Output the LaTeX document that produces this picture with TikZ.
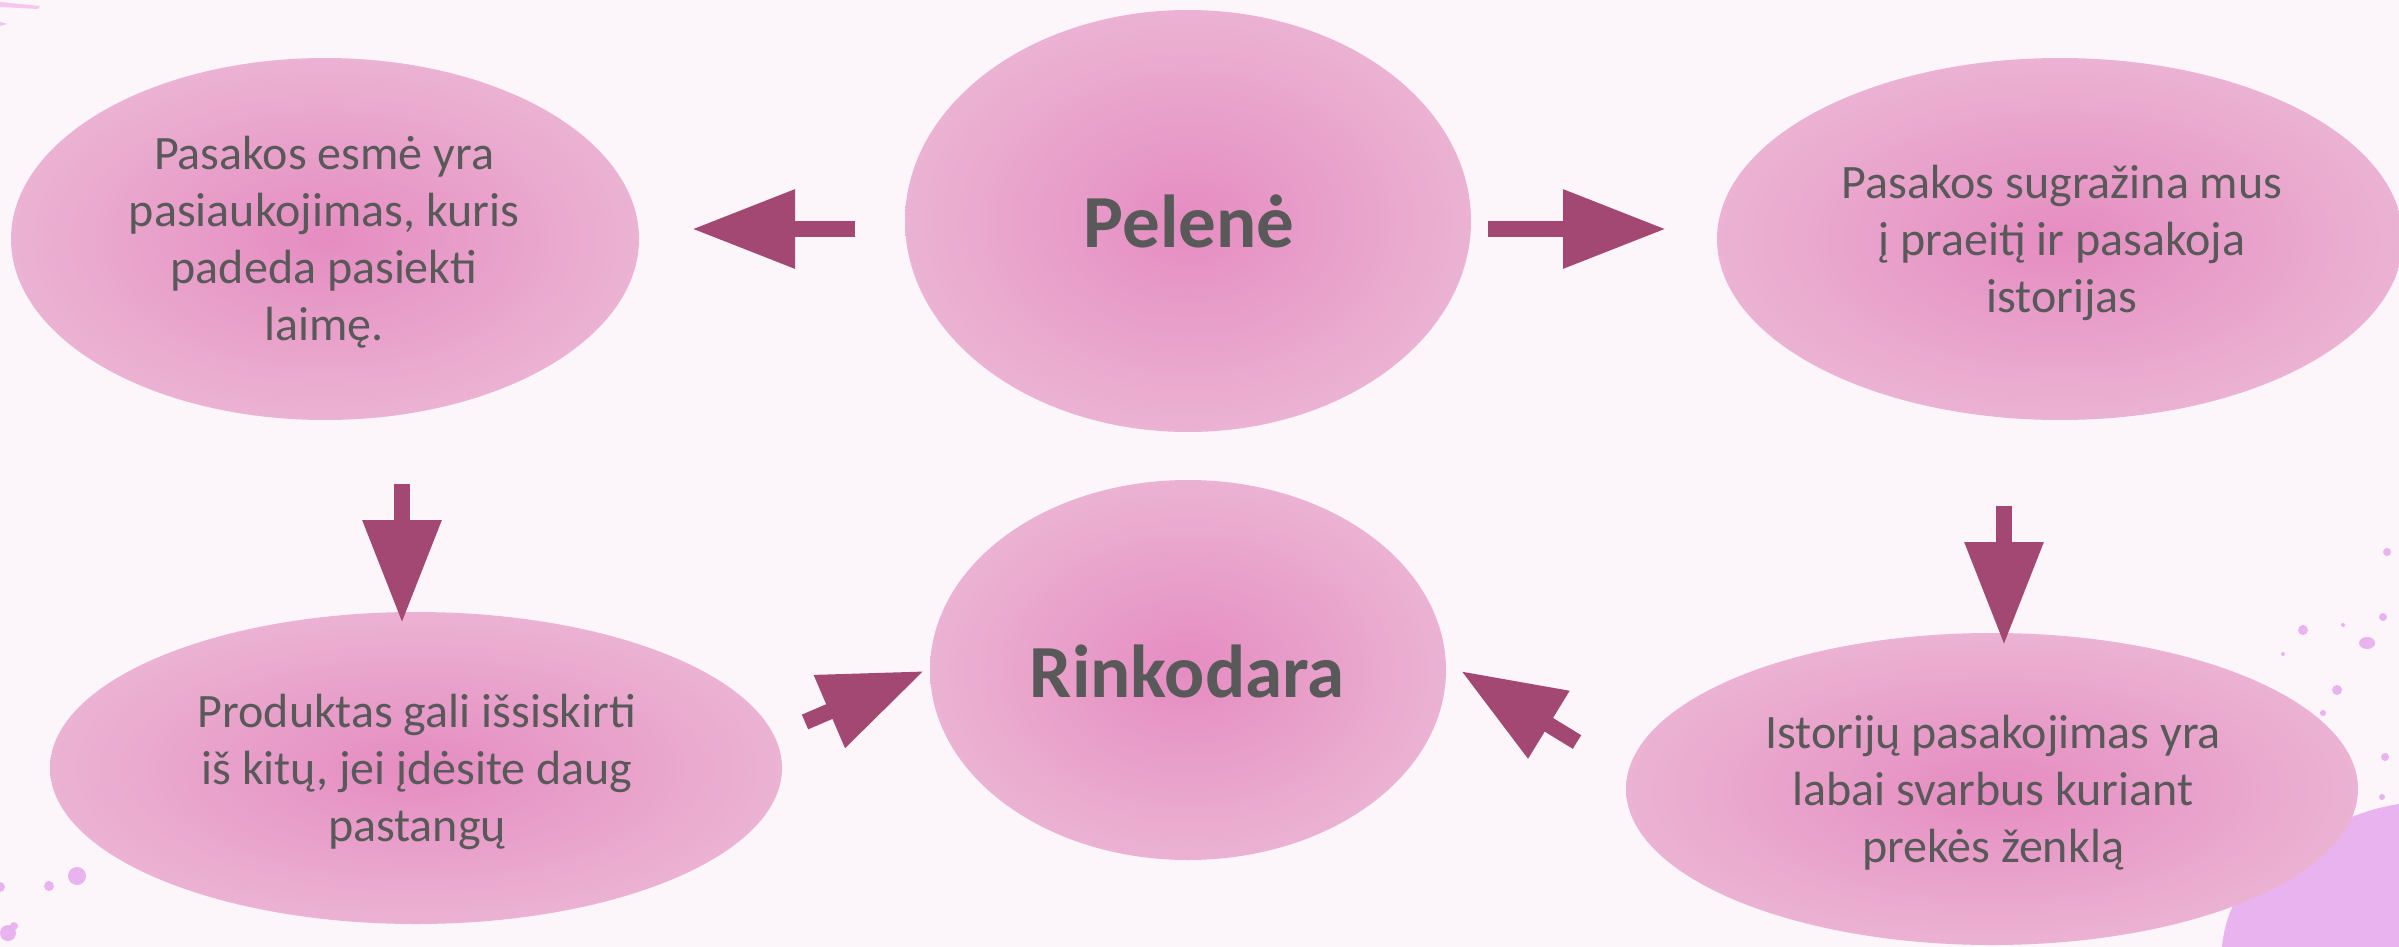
\documentclass[tikz,border=0pt]{standalone}
\usepackage{fontspec}
\setmainfont{Carlito}
\usetikzlibrary{arrows.meta,shapes.geometric}
\definecolor{bg}{HTML}{FCF5F9}
\definecolor{pkin}{HTML}{E58CC1}
\definecolor{pkmid}{HTML}{EAABCF}
\definecolor{pkout}{HTML}{F3D5E6}
\definecolor{arr}{HTML}{A34872}
\definecolor{txtc}{HTML}{595959}
\definecolor{lav}{HTML}{E8B3EF}
\definecolor{streak}{HTML}{F6C6EC}
\pgfdeclareradialshading{pinkglow}{\pgfpoint{0bp}{0bp}}{color(0bp)=(pkin); color(20bp)=(pkmid); color(50bp)=(pkout)}
\newcommand\mlines[1]{\vtop{\baselineskip=57pt\halign{\hfil##\hfil\cr#1\crcr}}}
\tikzset{
  bubble/.style={ellipse, inner sep=0pt, shading=pinkglow},
  body/.style={text=txtc, font=\fontsize{48}{57}\selectfont, inner sep=0pt, anchor=base},
  title/.style={text=txtc, font=\fontsize{75}{80}\selectfont\bfseries, inner sep=0pt, anchor=base},
  bigarrow/.style={draw=arr, line width=16pt, -{Triangle[length=103pt, width=75pt]}},
  splash/.style={fill=lav, draw=none}
}
\begin{document}
\begin{tikzpicture}[x=1pt,y=-1pt]
\fill[bg] (0,0) rectangle (2399,947);
\useasboundingbox (0,0) rectangle (2399,947);
% watercolor decorations
\fill[splash] (2222,947) .. controls (2226,900) and (2255,862) .. (2305,838)
  .. controls (2345,818) and (2372,808) .. (2399,804) -- (2399,947) -- cycle;
\fill[splash] (2303,630) circle[radius=5];
\fill[splash] (2367,643) ellipse[x radius=8, y radius=6];
\fill[splash] (2337,690) circle[radius=5];
\fill[splash] (2323,713) circle[radius=3];
\fill[splash] (2383,617) circle[radius=4];
\fill[splash] (2387,552) circle[radius=4];
\fill[splash] (2343,625) circle[radius=2];
\fill[splash] (2283,654) circle[radius=2];
\fill[splash] (2385,757) circle[radius=4];
\fill[splash] (2382,797) circle[radius=3];
\fill[splash] (77,876) circle[radius=9];
\fill[splash] (49,886) circle[radius=5];
\fill[splash] (0,887) circle[radius=5];
\fill[splash] (8,933) circle[radius=8];
\fill[splash] (14,926) circle[radius=4];
\fill[streak] (0,2) -- (40,6) -- (38,9) -- (0,7) -- cycle;
\fill[streak] (0,22) -- (8,24) -- (0,26) -- cycle;
% bubbles
\node[bubble, minimum width=628, minimum height=362] (e1) at (325,239) {};
\node[bubble, minimum width=566, minimum height=422] (pel) at (1188,221) {};
\node[bubble, minimum width=686, minimum height=362] (e3) at (2060,239) {};
\node[bubble, minimum width=732, minimum height=312] (e4) at (416,768) {};
\node[bubble, minimum width=516, minimum height=380] (rink) at (1188,670) {};
\node[bubble, minimum width=732, minimum height=312] (e6) at (1992,789) {};
% texts
\node[title] (tpel) at (1189,247) {Pelenė};
\node[title] (trink) at (1187,697) {Rinkodara};
\node[body] (t1) at (324,170) {\mlines{Pasakos esmė yra\cr pasiaukojimas, kuris\cr padeda pasiekti\cr laimę.}};
\node[body] (t3) at (2062,198) {\mlines{Pasakos sugražina mus\cr į praeitį ir pasakoja\cr istorijas}};
\node[body] (t4) at (417,727) {\mlines{Produktas gali išsiskirti\cr iš kitų, jei įdėsite daug\cr pastangų}};
\node[body] (t6) at (1993,748) {\mlines{Istorijų pasakojimas yra\cr labai svarbus kuriant\cr prekės ženklą}};
% arrows
\coordinate (a1s) at (855,229); \coordinate (a1t) at (692,229);
\coordinate (a2s) at (1488,229); \coordinate (a2t) at (1666,229);
\coordinate (a3s) at (402,484); \coordinate (a3t) at (402,623);
\coordinate (a4s) at (2004,506); \coordinate (a4t) at (2004,645);
\coordinate (a5s) at (805,722); \coordinate (a5t) at (924,671);
\coordinate (a6s) at (1577,742); \coordinate (a6t) at (1461,671);
\draw[bigarrow] (a1s) -- (a1t);
\draw[bigarrow] (a2s) -- (a2t);
\draw[bigarrow] (a3s) -- (a3t);
\draw[bigarrow] (a4s) -- (a4t);
\draw[bigarrow] (a5s) -- (a5t);
\draw[bigarrow] (a6s) -- (a6t);
\end{tikzpicture}
\end{document}
